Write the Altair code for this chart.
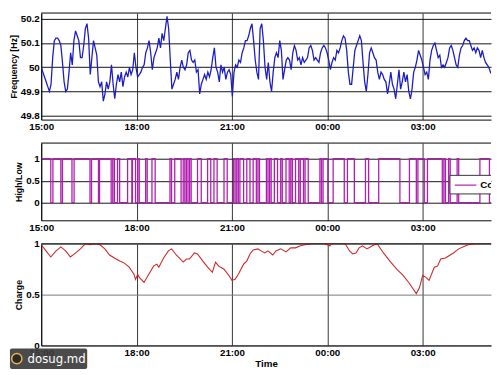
import altair as alt
import pandas as pd

# ---------------- data ----------------
TICK_LABELS = ["15:00", "18:00", "21:00", "00:00", "03:00"]

# Frequency [Hz], regular samples from 15:00
FREQ_START = "2010-01-01 15:00:00"
FREQ_STEP_S = 185
FREQ_HZ = [
    50.00, 49.98, 49.96, 49.94, 49.92, 49.90, 49.93, 50.04, 50.11, 50.12,
    50.12, 50.11, 50.09, 50.02, 49.94, 49.90, 49.91, 49.98, 50.06, 50.01,
    50.11, 50.15, 50.13, 50.11, 50.04, 50.04, 50.09, 50.16, 50.18, 50.12,
    49.97, 50.04, 50.11, 50.08, 50.05, 49.94, 49.92, 49.94, 49.86, 49.89,
    49.94, 49.91, 49.94, 50.01, 49.93, 49.87, 49.93, 49.97, 49.94, 49.98,
    49.92, 49.96, 49.98, 49.96, 50.00, 49.97, 49.99, 50.06, 50.00, 49.96,
    49.97, 49.98, 50.00, 50.01, 50.06, 50.08, 50.11, 50.06, 49.99, 50.04,
    50.06, 50.08, 50.12, 50.08, 50.14, 50.11, 50.16, 50.21, 50.16, 50.03,
    49.91, 49.93, 49.95, 49.98, 49.95, 50.00, 50.03, 50.00, 49.99, 50.01,
    50.06, 50.07, 50.03, 50.02, 50.03, 49.98, 49.99, 49.89, 49.93, 49.95,
    49.97, 49.95, 49.98, 49.96, 49.99, 50.04, 50.08, 50.00, 49.98, 49.94,
    50.01, 49.98, 50.00, 49.95, 49.98, 49.99, 49.97, 49.88, 49.98, 50.01,
    50.00, 50.03, 50.02, 50.06, 50.08, 50.11, 50.11,
    50.13, 50.16, 50.18, 50.11, 50.03, 49.98, 49.95, 50.16, 50.18, 50.11,
    50.00, 49.95, 50.02, 49.94, 49.90, 49.98, 50.04, 50.06, 50.04, 50.11,
    50.07, 49.95, 49.99, 50.03, 50.04, 50.03, 49.99, 50.06, 50.09, 50.07,
    50.03, 50.04, 50.01, 50.04, 50.02, 50.03, 50.04, 50.08, 50.09, 50.07,
    50.03, 50.04, 50.03, 50.02, 50.06, 50.08, 50.09, 50.08, 50.06, 50.03,
    49.99, 50.02, 50.04, 50.03, 50.07, 50.06, 50.08, 50.11, 50.13, 50.12,
    50.07, 49.98, 49.93, 49.93, 50.00, 50.07, 50.09, 50.11, 50.13, 50.11,
    50.02, 49.94, 49.90, 49.97, 50.06, 50.08, 50.06, 50.04, 50.03, 49.98,
    49.95, 49.98, 49.97, 49.95, 49.94, 49.89, 49.93, 49.98, 49.93, 49.91,
    49.87, 49.93, 49.99, 49.91, 49.94, 49.98, 49.94, 49.97, 49.90, 49.87,
    49.91, 49.98, 50.00, 50.03, 50.07, 50.05, 50.03, 50.00, 49.97, 49.98,
    49.95, 50.03, 50.07, 50.09, 50.10, 50.07, 50.04, 50.05, 50.00, 50.01,
    50.00, 50.02, 50.04, 50.08, 50.09, 50.07, 50.04, 50.01, 50.00, 50.05,
    50.08, 50.09, 50.11, 50.12, 50.11, 50.11, 50.09, 50.07, 50.08, 50.06,
    50.08, 50.07, 50.04, 50.07, 50.04, 50.02, 50.01, 50.00, 49.98, 49.97,
]

# High/Low switching moments, minutes after 15:00 (state starts High)
SWITCH_START_STATE = 1
SWITCH_MIN = [
    18, 22, 37, 40, 58, 62, 92, 95, 108, 110, 132, 135, 138, 144, 148, 163,
    171, 172, 178, 182, 185, 197, 200, 209, 215, 243, 246, 252, 264, 268,
    271, 274, 277, 280, 283, 295, 302, 314, 320, 326, 332, 345, 351, 363,
    366, 369, 372, 375, 382, 388, 394, 400, 406, 409, 412, 425, 428, 431,
    434, 440, 446, 452, 455, 462, 468, 471, 474, 480, 486, 489, 495, 498,
    504, 526, 529, 532, 541, 551, 572, 578, 591, 612, 618, 637, 677, 695,
    708, 711, 723, 729, 757, 760, 763, 769, 772, 785, 788, 828, 846,
]
SWITCH_END_MIN = 852
LEGEND_LABEL = "Command"

# Charge, minutes after 15:00
CHARGE_MIN = [
    0, 9, 18, 28, 37, 46, 55, 65, 74, 83, 92, 102, 111, 120, 129, 138, 148,
    157, 166, 175, 178, 182, 185, 194, 203, 212, 218, 222, 231, 240, 246, 255,
    268, 274, 280, 289, 295, 305, 314, 323, 329, 335, 345, 354, 360, 366, 372,
    382, 388, 394, 400, 409, 415, 422, 428, 437, 443, 452, 462, 471, 480, 489,
    498, 511, 523, 535, 545, 548, 560, 572, 575, 582, 588, 594, 600, 606, 615,
    625, 634, 646, 658, 671, 683, 695, 708, 714, 720, 726, 732, 742, 748, 754,
    763, 769, 778, 788, 797, 806, 818, 831, 843, 850,
]
CHARGE_VAL = [
    0.99, 0.93, 0.87, 0.93, 0.97, 0.93, 0.87, 0.91, 0.95, 1.00, 0.99, 1.00,
    0.99, 0.95, 0.89, 0.86, 0.83, 0.81, 0.77, 0.70, 0.65, 0.70, 0.67, 0.62,
    0.70, 0.78, 0.80, 0.77, 0.86, 0.93, 0.95, 0.89, 0.82, 0.85, 0.85, 0.91,
    0.90, 0.83, 0.77, 0.72, 0.82, 0.78, 0.75, 0.69, 0.64, 0.65, 0.70, 0.80,
    0.83, 0.90, 0.94, 0.95, 0.93, 0.91, 0.93, 0.89, 0.93, 0.95, 0.92, 0.96,
    0.96, 0.98, 0.99, 1.00, 1.00, 1.00, 0.98, 1.00, 1.00, 1.00, 0.99, 0.93,
    0.90, 0.91, 0.96, 0.98, 0.95, 0.98, 1.00, 0.91, 0.83, 0.75, 0.69, 0.61,
    0.51, 0.57, 0.69, 0.67, 0.64, 0.77, 0.78, 0.85, 0.86, 0.88, 0.91, 0.95,
    0.97, 0.99, 1.00, 1.00, 1.00, 1.00,
]

WATERMARK = "dosug.md"

# ---------------- tables ----------------
BASE = pd.Timestamp(FREQ_START)


def to_times(mins):
    return [BASE + pd.Timedelta(minutes=m) for m in mins]


freq_df = pd.DataFrame({
    "time": pd.date_range(BASE, periods=len(FREQ_HZ), freq=f"{FREQ_STEP_S}s"),
    "f": FREQ_HZ,
})

states = [SWITCH_START_STATE]
for _ in SWITCH_MIN:
    states.append(1 - states[-1])
hl_df = pd.DataFrame({
    "time": to_times([0] + SWITCH_MIN + [SWITCH_END_MIN]),
    "s": states + [states[-1]],
})

charge_df = pd.DataFrame({"time": to_times(CHARGE_MIN), "c": CHARGE_VAL})
one = pd.DataFrame({"a": [0]})


def dt(label):
    h, m = (int(v) for v in label.split(":"))
    return alt.DateTime(year=2010, month=1, date=1 if h >= 15 else 2, hours=h, minutes=m)


tick_vals = [dt(t) for t in TICK_LABELS]
x_dom = [dt("15:00"), alt.DateTime(year=2010, month=1, date=2, hours=5, minutes=9)]

# ---------------- style ----------------
FONT = "Liberation Sans"
W = 460
BLUE = "#1c1cc4"
MAGENTA = "#b11cb1"
RED = "#d02828"


def x_axis(title=None):
    kw = dict(
        values=tick_vals, format="%H:%M", grid=True, gridColor="#333333",
        gridWidth=1, domainColor="#000000", domainWidth=1, ticks=False,
        labelFont=FONT, labelFontSize=10, labelFontWeight="bold",
        labelColor="#000000", labelPadding=2, labelFlush=False,
        labelOverlap=False,
    )
    if title:
        return alt.Axis(title=title, titleFont=FONT, titleFontSize=10,
                        titleFontWeight="bold", titleColor="#000000",
                        titlePadding=1, **kw)
    return alt.Axis(title=None, **kw)


def y_axis(title, values, grid_color="#111111"):
    return alt.Axis(
        title=title, values=values, format="~f", grid=True,
        gridColor=grid_color, gridWidth=1, domainColor="#000000",
        domainWidth=1, ticks=False, labelFont=FONT, labelFontSize=10,
        labelFontWeight="bold", labelColor="#000000", labelPadding=2,
        titleFont=FONT, titleFontSize=9, titleFontWeight="bold",
        titleColor="#000000", titlePadding=2, labelOverlap=False,
    )


def top_frame():
    return alt.Chart(one).mark_rule(color="#000000", strokeWidth=1).encode(
        x=alt.value(0), x2=alt.value(W), y=alt.value(0))


# ---------------- panel 1: frequency ----------------
p1 = alt.layer(
    alt.Chart(freq_df).mark_line(color=BLUE, strokeWidth=1.3, clip=True).encode(
        x=alt.X("time:T", scale=alt.Scale(domain=x_dom), axis=x_axis()),
        y=alt.Y("f:Q", scale=alt.Scale(domain=[49.784, 50.224], nice=False, zero=False),
                axis=y_axis("Frequency [Hz]", [49.8, 49.9, 50.0, 50.1, 50.2])),
    ),
    top_frame(),
).properties(width=W, height=109)

# ---------------- panel 2: high / low ----------------
p2 = alt.layer(
    alt.Chart(hl_df).mark_line(color=MAGENTA, strokeWidth=1.3, interpolate="step-after",
                               clip=True).encode(
        x=alt.X("time:T", scale=alt.Scale(domain=x_dom), axis=x_axis()),
        y=alt.Y("s:Q", scale=alt.Scale(domain=[-0.4, 1.356], nice=False, zero=False),
                axis=y_axis("High/Low", [0, 0.5, 1])),
    ),
    top_frame(),
    alt.Chart(one).mark_rect(fill="#ffffff", stroke="#333333", strokeWidth=1, clip=True).encode(
        x=alt.value(418), x2=alt.value(490), y=alt.value(33), y2=alt.value(52)),
    alt.Chart(one).mark_rule(color=MAGENTA, strokeWidth=1.2).encode(
        x=alt.value(423), x2=alt.value(445), y=alt.value(43)),
    alt.Chart(one).mark_text(align="left", baseline="middle", font=FONT, fontSize=10,
                             fontWeight="bold", color="#000000", clip=True).encode(
        x=alt.value(449), y=alt.value(43), text=alt.value(LEGEND_LABEL)),
).properties(width=W, height=79)

# ---------------- panel 3: charge ----------------
p3 = alt.layer(
    alt.Chart(charge_df).mark_line(color=RED, strokeWidth=1.1, clip=True).encode(
        x=alt.X("time:T", scale=alt.Scale(domain=x_dom), axis=x_axis("Time")),
        y=alt.Y("c:Q", scale=alt.Scale(domain=[0, 1], nice=False),
                axis=y_axis("Charge", [0, 0.5, 1], grid_color="#777777")),
    ),
    top_frame(),
    # image-host watermark in the lower-left corner
    alt.Chart(one).mark_rect(fill="#3c3c3c", opacity=0.92, cornerRadius=2).encode(
        x=alt.value(-32), x2=alt.value(47), y=alt.value(107), y2=alt.value(128)),
    alt.Chart(one).mark_circle(size=110, color="#2a2a2a", stroke="#e8b050",
                               strokeWidth=1.5, opacity=1).encode(
        x=alt.value(-25), y=alt.value(117.5)),
    alt.Chart(one).mark_text(align="left", baseline="middle", font="DejaVu Sans",
                             fontSize=12, color="#ffffff").encode(
        x=alt.value(-14), y=alt.value(117.5), text=alt.value(WATERMARK)),
).properties(width=W, height=104)

chart = alt.vconcat(p1, p2, p3, spacing=24, bounds="flush").properties(
    padding=0, background="#ffffff"
).configure_view(stroke=None)

chart.save("out.html", embed_options={"renderer": "svg", "actions": False})
